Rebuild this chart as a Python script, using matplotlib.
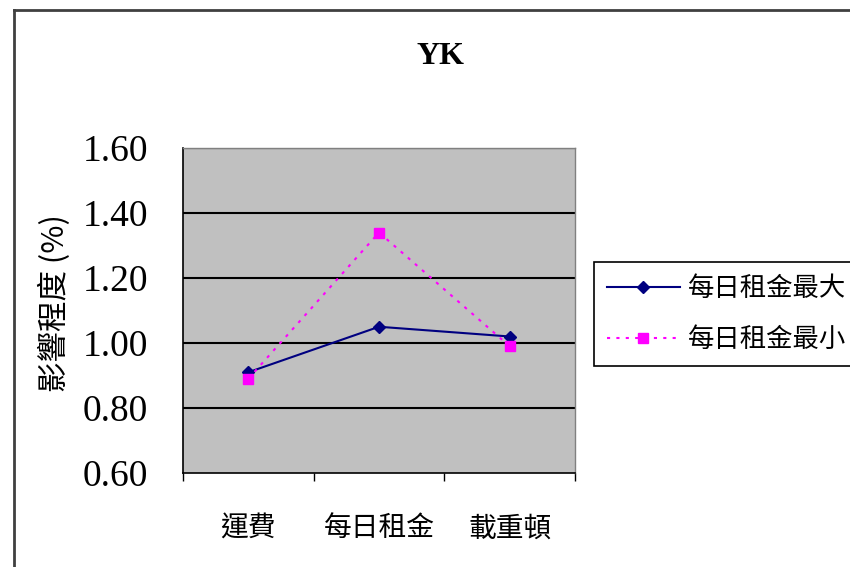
import matplotlib
matplotlib.use("Agg")
import matplotlib.pyplot as plt
from matplotlib.lines import Line2D

categories = ["運費", "每日租金", "載重頓"]
series_names = ["每日租金最大", "每日租金最小"]
max_values = [0.91, 1.05, 1.02]
min_values = [0.89, 1.34, 0.99]
y_ticks = [0.60, 0.80, 1.00, 1.20, 1.40, 1.60]
y_tick_labels = ["0.60", "0.80", "1.00", "1.20", "1.40", "1.60"]
title = "YK"
y_label = "影響程度 (%)"

CJK = ["Noto Sans CJK TC", "DejaVu Sans"]

fig = plt.figure(figsize=(8.5, 5.67), dpi=100)
W, H = 850, 567

# chart-area border (left and top edges visible)
fig.add_artist(Line2D([14 / W, 14 / W], [0, 1 - 10 / H], transform=fig.transFigure,
                      color="#404040", lw=2))
fig.add_artist(Line2D([14 / W, 1], [1 - 10 / H, 1 - 10 / H], transform=fig.transFigure,
                      color="#404040", lw=2))

ax = fig.add_axes([183 / W, 1 - 473 / H, (575 - 183) / W, (473 - 148) / H])
ax.set_facecolor("#C0C0C0")

x = list(range(len(categories)))
ax.plot(x, max_values, color="#000080", lw=1.5, marker="D", markersize=6,
        markerfacecolor="#000080", markeredgecolor="#000080", label=series_names[0], zorder=3)
ax.plot(x, min_values, color="#FF00FF", lw=1.5, linestyle=(0, (1.5, 3)), marker="s",
        markersize=7.5, markerfacecolor="#FF00FF", markeredgecolor="#FF00FF",
        label=series_names[1], zorder=3)

ax.set_xlim(-0.5, len(categories) - 0.5)
ax.set_ylim(y_ticks[0], y_ticks[-1])
for yv in y_ticks[1:]:
    ax.axhline(yv, color="black", lw=1.5, zorder=1)

ax.set_xticks(x)
ax.set_xticklabels(categories, family=CJK, fontsize=20)
ax.set_xticks([i - 0.5 for i in range(len(categories) + 1)], minor=True)
ax.tick_params(axis="x", which="major", length=0, pad=29)
ax.tick_params(axis="x", which="minor", length=6, direction="out", color="black", width=1)

ax.set_yticks(y_ticks)
ax.set_yticklabels(y_tick_labels, family="Liberation Serif", fontsize=27)
ax.tick_params(axis="y", length=0, pad=25)

for side in ["left", "bottom"]:
    ax.spines[side].set_color("black")
    ax.spines[side].set_linewidth(1.2)
for side in ["right", "top"]:
    ax.spines[side].set_color("#808080")
    ax.spines[side].set_linewidth(1.0)

fig.text(440 / W, 1 - 57 / H, title, ha="center", va="center",
         family="Liberation Serif", fontweight="bold", fontsize=23)
fig.text(55 / W, 1 - 303 / H, y_label, ha="center", va="center", rotation=90,
         family=CJK, fontsize=22)

leg = fig.legend(loc="upper left", bbox_to_anchor=(594 / W, 1 - 262 / H),
                 prop={"family": CJK, "size": 19}, frameon=True, fancybox=False,
                 edgecolor="black", framealpha=1, borderpad=0.5, labelspacing=0.9,
                 handlelength=2.75, handletextpad=0.3, borderaxespad=0)
leg.get_frame().set_linewidth(1.2)

fig.savefig("out.png", dpi=100)
